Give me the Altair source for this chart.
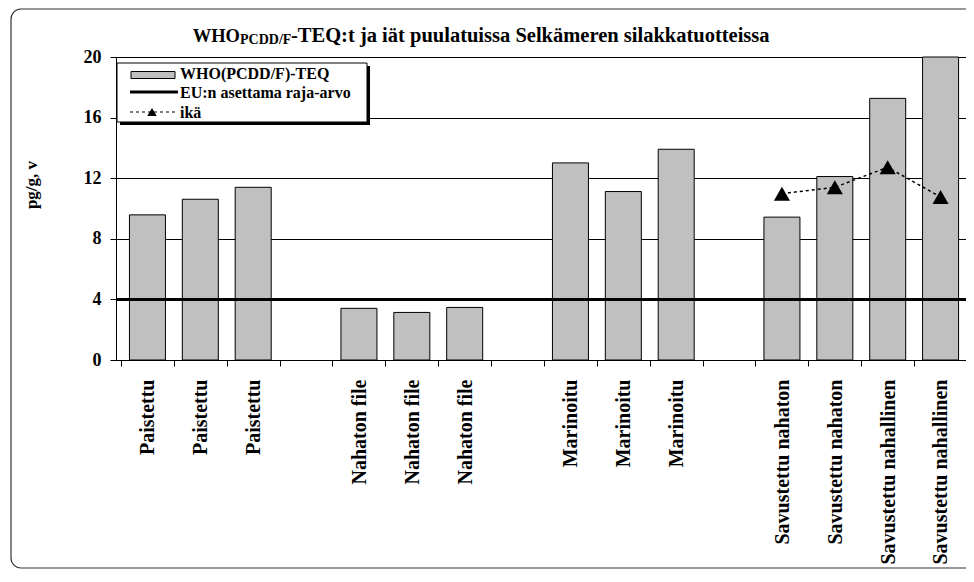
import altair as alt
import pandas as pd

# ---- data ----
slot_labels = ["Paistettu", "Paistettu", "Paistettu", "",
               "Nahaton file", "Nahaton file", "Nahaton file", "",
               "Marinoitu", "Marinoitu", "Marinoitu", "",
               "Savustettu nahaton", "Savustettu nahaton",
               "Savustettu nahallinen", "Savustettu nahallinen"]
teq_values = [9.58, 10.61, 11.4, None,
              3.41, 3.14, 3.47, None,
              13.01, 11.12, 13.91, None,
              9.43, 12.11, 17.27, 20.0]
age_slots = [12, 13, 14, 15]
age_values = [10.98, 11.4, 12.72, 10.76]
eu_limit = [4]
y_ticks = [0, 4, 8, 12, 16, 20]

bars_df = pd.DataFrame({
    "slot": list(range(len(slot_labels))),
    "teq": teq_values,
})
bars_df = bars_df.dropna()
bars_df["xc"] = bars_df["slot"] + 0.5

age_df = pd.DataFrame({"slot": age_slots, "age": age_values})
age_df["xc"] = age_df["slot"] + 0.5

eu_df = pd.DataFrame({"eu": eu_limit})

W, H = 856, 303
PAD_L, PAD_T = 108, 49
CANVAS_W, CANVAS_H = 958, 562
FONT = "Liberation Serif"
N = len(slot_labels)

xscale = alt.Scale(domain=[0, N], nice=False, zero=False)
yscale = alt.Scale(domain=[0, 20], nice=False)

label_arr = "[" + ",".join("'" + s + "'" for s in slot_labels + [""]) + "]"

x_axis = alt.Axis(
    values=list(range(N + 1)), labelExpr=label_arr + "[datum.value]",
    labelAngle=270, labelOffset=W / N / 2, labelFlush=False, labelOverlap=False,
    labelLimit=0,
    labelFont=FONT, labelFontSize=20, labelFontWeight="bold", labelColor="black",
    labelPadding=13, tickSize=6, tickColor="black", domainColor="black",
    grid=False, title=None,
)
y_axis = alt.Axis(
    values=y_ticks, labelFont=FONT, labelFontSize=18, labelFontWeight="bold",
    labelColor="black", labelPadding=9, tickSize=6, tickColor="black",
    domainColor="black", grid=True, gridColor="black", gridWidth=1, title=None,
)

one = alt.Data(values=[{"k": 0}])

frame = alt.Chart(one).mark_rect(
    filled=False, stroke="#333", strokeWidth=1.2, cornerRadius=10
).encode(x=alt.value(-105), x2=alt.value(880), y=alt.value(-48),
         y2=alt.value(CANVAS_H - PAD_T - 2))

bars = alt.Chart(bars_df).mark_bar(
    width=36, fill="#C0C0C0", stroke="black", strokeWidth=1
).encode(
    x=alt.X("xc:Q", scale=xscale, axis=x_axis),
    y=alt.Y("teq:Q", scale=yscale, axis=y_axis),
)

eu = alt.Chart(eu_df).mark_rule(color="black", strokeWidth=3).encode(
    y=alt.Y("eu:Q", scale=yscale)
)

age_line = alt.Chart(age_df).mark_line(
    color="black", strokeDash=[3, 3], strokeWidth=1.5
).encode(
    x=alt.X("xc:Q", scale=xscale), y=alt.Y("age:Q", scale=yscale)
)
age_pts = alt.Chart(age_df).mark_point(
    shape="triangle-up", filled=True, color="black", size=260, opacity=1
).encode(
    x=alt.X("xc:Q", scale=xscale), y=alt.Y("age:Q", scale=yscale)
)

# ---- legend ----
leg_shadow = alt.Chart(one).mark_rect(fill="black").encode(
    x=alt.value(4), x2=alt.value(254), y=alt.value(9), y2=alt.value(68))
leg_box = alt.Chart(one).mark_rect(fill="white", stroke="black", strokeWidth=1).encode(
    x=alt.value(1), x2=alt.value(251), y=alt.value(6), y2=alt.value(65))
leg_sw = alt.Chart(one).mark_rect(fill="#C0C0C0", stroke="black", strokeWidth=1).encode(
    x=alt.value(15), x2=alt.value(59), y=alt.value(14.5), y2=alt.value(21.5))
leg_eu = alt.Chart(one).mark_rule(color="black", strokeWidth=3).encode(
    x=alt.value(14), x2=alt.value(62), y=alt.value(35))
leg_age = alt.Chart(one).mark_rule(color="black", strokeWidth=1.2, strokeDash=[3, 3]).encode(
    x=alt.value(14), x2=alt.value(62), y=alt.value(55))
leg_tri = alt.Chart(one).mark_point(
    shape="triangle-up", filled=True, color="black", size=90, opacity=1
).encode(x=alt.value(36), y=alt.value(55))

def txt(s, x, y, size, align="left", angle=0, baseline="alphabetic"):
    return alt.Chart(one).mark_text(
        text=s, font=FONT, fontSize=size, fontWeight="bold", color="black",
        align=align, baseline=baseline, angle=angle
    ).encode(x=alt.value(x), y=alt.value(y))

leg_t1 = txt("WHO(PCDD/F)-TEQ", 64, 22, 16)
leg_t2 = txt("EU:n asettama raja-arvo", 64, 41, 16)
leg_t3 = txt("ikä", 64, 61, 16)

# ---- title (with subscript) and y-axis title ----
t_a = txt("WHO", 124, -15, 18.5, align="right")
t_b = txt("PCDD/F", 124, -13, 14)
t_c = txt("-TEQ:t ja iät puulatuissa Selkämeren silakkatuotteissa", 175, -15, 20.5)
y_title = txt("pg/g, v", -84, 128, 17, align="center", angle=270, baseline="middle")

chart = alt.layer(
    frame, bars, eu, age_line, age_pts,
    leg_shadow, leg_box, leg_sw, leg_eu, leg_age, leg_tri, leg_t1, leg_t2, leg_t3,
    t_a, t_b, t_c, y_title,
).properties(
    width=W, height=H,
    autosize=alt.AutoSizeParams(type="none"),
    padding={"left": PAD_L, "top": PAD_T, "right": CANVAS_W - PAD_L - W,
             "bottom": CANVAS_H - PAD_T - H},
).configure_view(
    stroke="black", strokeWidth=1
).configure(background="white")

chart.save("out.html", embed_options={"renderer": "svg", "actions": False})
